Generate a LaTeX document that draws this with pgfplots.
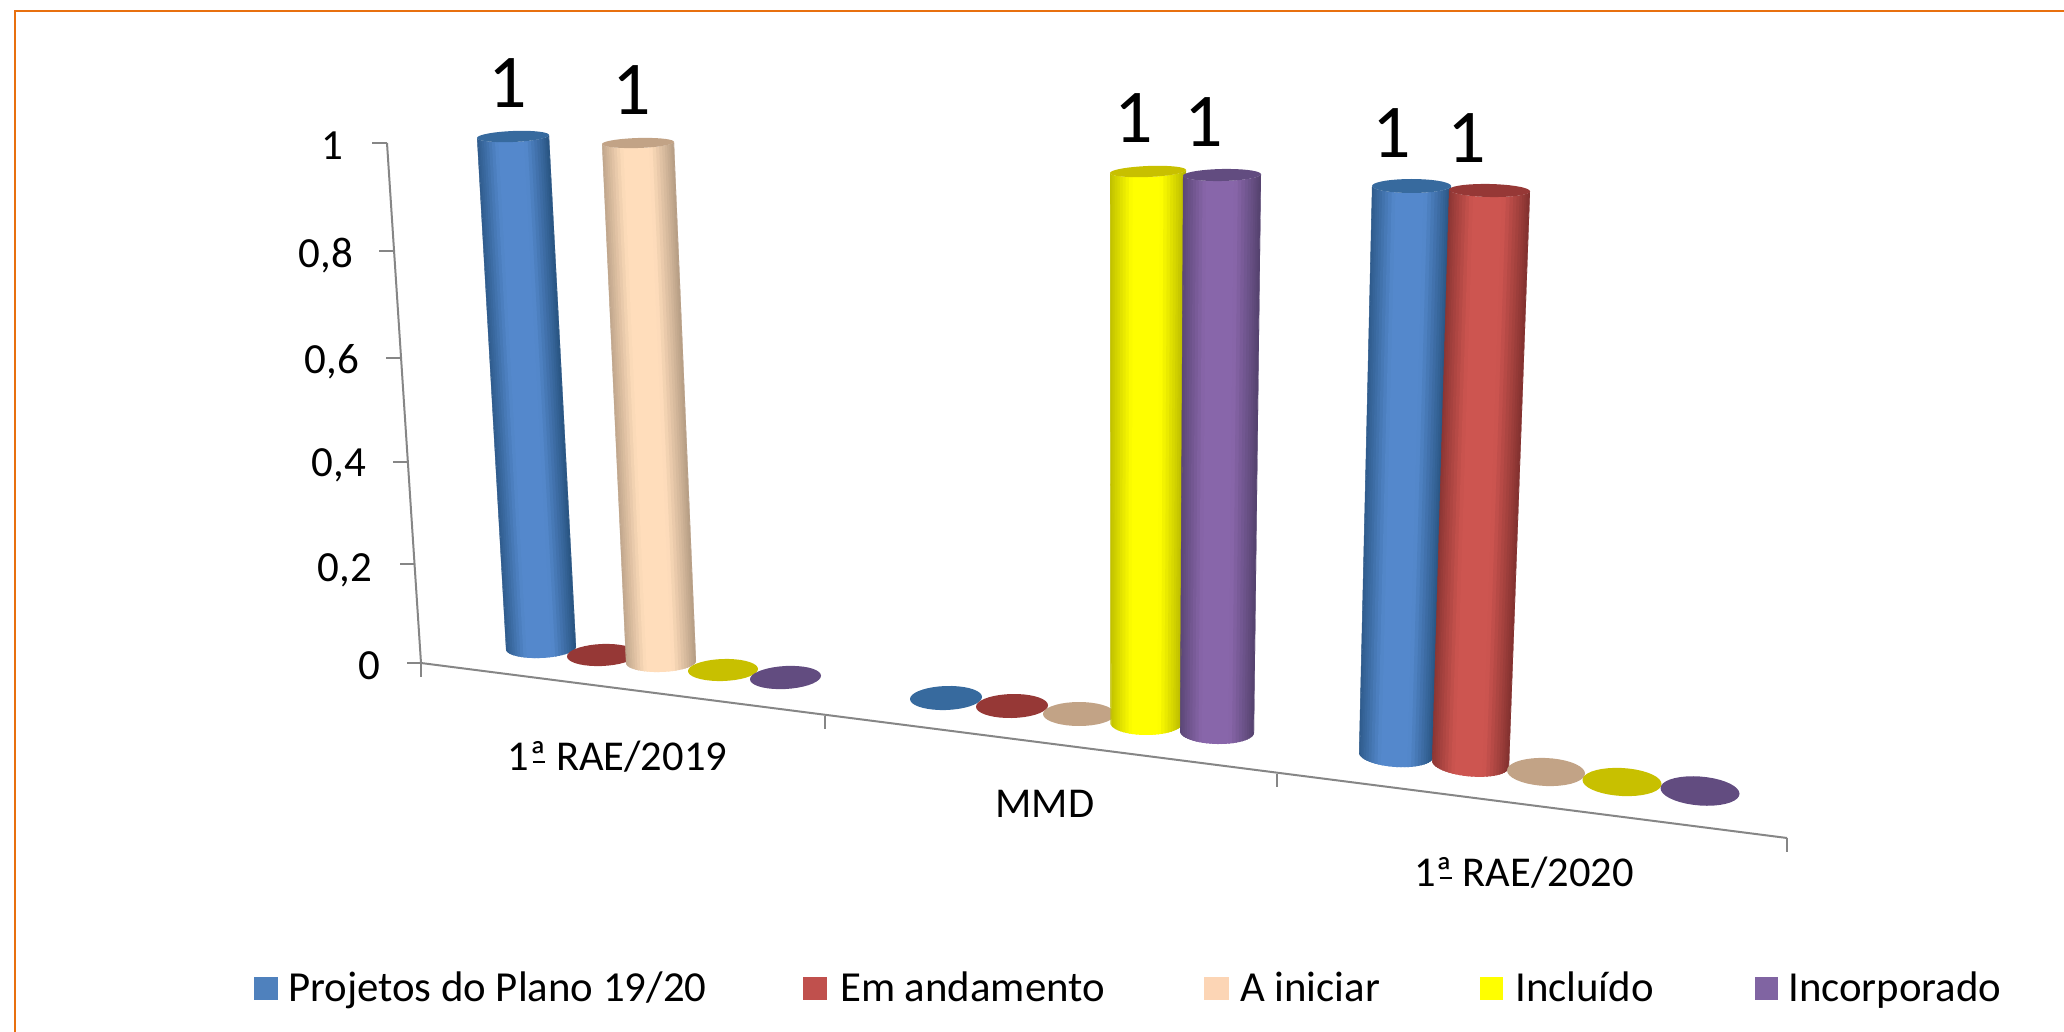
\documentclass[border=0pt]{standalone}
\usepackage{pgfplots}
\pgfplotsset{compat=1.18}
\usepackage{fontspec}
\setmainfont{Carlito}
\definecolor{axgray}{HTML}{868686}
\definecolor{frameor}{HTML}{E8700F}
\definecolor{bluec}{HTML}{5488CC}\definecolor{bluee}{HTML}{2A5684}\definecolor{bluet}{HTML}{376A9E}
\definecolor{redc}{HTML}{CD5550}\definecolor{rede}{HTML}{843230}\definecolor{redt}{HTML}{963836}
\definecolor{begc}{HTML}{FFDDBB}\definecolor{bege}{HTML}{B89F86}\definecolor{begt}{HTML}{C2A386}
\definecolor{yelc}{HTML}{FFFF00}\definecolor{yele}{HTML}{B8B800}\definecolor{yelt}{HTML}{C8C000}
\definecolor{purc}{HTML}{8866AA}\definecolor{pure}{HTML}{564370}\definecolor{purt}{HTML}{624C80}
\definecolor{legb}{HTML}{4F81BD}\definecolor{legr}{HTML}{C0504D}\definecolor{legn}{HTML}{FCD5B5}\definecolor{legp}{HTML}{8064A2}
% segment
\newcommand\seg[5][axgray]{\addplot[color=#1,line width=2pt] coordinates {(#2,#3)(#4,#5)};}
% flat disc: colour, cx, cy, rx, ry, shear
\newcommand\disc[6]{%
  \def\pts{}%
  \pgfplotsforeachungrouped \a in {0,10,...,350}{%
    \pgfmathsetmacro\px{#2+#4*cos(\a)}%
    \pgfmathsetmacro\py{#3+#5*sin(\a)+#6*#4*cos(\a)}%
    \edef\pts{\pts(\px,\py)}%
  }%
  \edef\temp{\noexpand\addplot[fill=#1,draw=none] coordinates {\pts};}\temp
}
% cylinder: series colour stem {c,e,t}; value; base cx,cy,rx,ry,shear; top (at value 1) cx,cy,rx,ry,shear
\newcommand\cyl[3]{\cylB{#1}{#2}#3\relax}
\def\cylB#1#2#3,#4,#5,#6,#7;#8,#9\relax{%
  \def\bx{#3}\def\by{#4}\def\brx{#5}\def\bry{#6}\def\bsh{#7}%
  \cylC{#1}{#2}#8,#9\relax}
\def\cylC#1#2#3,#4,#5,#6,#7\relax{%
  \pgfmathsetmacro\tx{\bx+#2*(#3-\bx)}%
  \pgfmathsetmacro\ty{\by+#2*(#4-\by)}%
  \pgfmathsetmacro\trx{\brx+#2*(#5-\brx)}%
  \pgfmathsetmacro\try{\bry+#2*(#6-\bry)}%
  \pgfmathsetmacro\tsh{\bsh+#2*(#7-\bsh)}%
  \pgfmathparse{#2>0?1:0}\ifnum\pgfmathresult>0
  \pgfplotsforeachungrouped \a in {0,6,...,174}{%
    \pgfmathsetmacro\an{min(180,\a+9)}%
    \pgfmathsetmacro\sa{-cos(\a)}\pgfmathsetmacro\sb{-cos(\an)}%
    \pgfmathsetmacro\sm{abs(-cos(\a+3)+0.04)}%
    \pgfmathsetmacro\p{100*min(1,max(0,(1-\sm)/0.62))^0.9}%
    \pgfmathsetmacro\xa{\bx+\brx*\sa}\pgfmathsetmacro\ya{\by+\bry*sin(\a)+\bsh*\brx*\sa}%
    \pgfmathsetmacro\xb{\bx+\brx*\sb}\pgfmathsetmacro\yb{\by+\bry*sin(\an)+\bsh*\brx*\sb}%
    \pgfmathsetmacro\xc{\tx+\trx*\sb}\pgfmathsetmacro\yc{\ty+\try*sin(\an)+\tsh*\trx*\sb}%
    \pgfmathsetmacro\xd{\tx+\trx*\sa}\pgfmathsetmacro\yd{\ty+\try*sin(\a)+\tsh*\trx*\sa}%
    \edef\temp{\noexpand\addplot[fill=#1c!\p!#1e,draw=none] coordinates {(\xa,\ya)(\xb,\yb)(\xc,\yc)(\xd,\yd)};}\temp
  }%
  \fi
  \disc{#1t}{\tx}{\ty}{\trx}{\try}{\tsh}%
}
\newcommand\lbl[4][42.5]{\node[anchor=base,inner sep=0pt] at (axis cs:#2,#3) {\fontsize{#1}{#1}\selectfont #4};}
\newcommand\tl[3]{\node[anchor=base east,inner sep=0pt] at (axis cs:#1,#2) {\fontsize{43}{43}\selectfont #3};}
\newcommand\leg[6]{\addplot[fill=#1,draw=none] coordinates {(#2,977)(#3,977)(#3,1000)(#2,1000)};
  \node[anchor=base west,inner sep=0pt] at (axis cs:#4,1001) {\fontsize{#6}{#6}\selectfont #5};}
\newcommand\ordu{\llap{\rule[0.17em]{0.28em}{0.05em}\kern0.03em}}
\begin{document}
\begin{tikzpicture}
\useasboundingbox (0,0) rectangle (2064pt,1032pt);
\begin{axis}[at={(0,0)},anchor=south west,width=2064pt,height=1032pt,scale only axis,
  xmin=0,xmax=2064,ymin=0,ymax=1032,y dir=reverse,hide axis,clip=false]
% frame
\addplot[color=frameor,line width=2.4pt] coordinates {(15,1032)(15,11)(2064,11)};
% axes
\seg{387}{143}{421}{663}
\seg{421}{663}{1787}{838}
\seg{372}{143}{387}{143}
\seg{379}{251}{394}{251}
\seg{386}{358}{401}{358}
\seg{393}{462}{408}{462}
\seg{400}{564}{415}{564}
\seg{407}{663}{421}{663}
\seg{421}{663}{421}{677}
\seg{825}{716}{825}{729}
\seg{1277}{774}{1277}{787}
\seg{1787}{838}{1787}{852}
% group 1
\cyl{blue}{1}{541,648,35,10,-0.04;513,136.5,36,5.5,-0.04}
\cyl{red}{0}{602,655,35,11,-0.04;602,140,36,5.5,-0.04}
\cyl{beg}{1}{661,662,35,10,-0.03;638,143,36,5,-0.03}
\cyl{yel}{0}{723,670,35,11,-0.03;700,150,36,5,-0.03}
\cyl{pur}{0}{785.5,677.5,35.5,11.5,-0.05;760,155,36,5,-0.03}
% group 2
\cyl{blue}{0}{946,698,36,12,-0.03;946,160,38,5.5,-0.03}
\cyl{red}{0}{1012,706,36,12,-0.02;1012,165,38,5.5,-0.03}
\cyl{beg}{0}{1079,714,36,12,0;1079,168,38,5.5,-0.03}
\cyl{yel}{1}{1146.5,723,36,12,0;1148,171.5,38,5.5,-0.04}
\cyl{pur}{1}{1217,732,37,12,0.02;1222,175,39,6,-0.02}
% group 3
\cyl{blue}{1}{1396,755,37,12,0.06;1411.5,186,39.5,7,0}
\cyl{red}{1}{1470.5,764,38.5,12.5,0.08;1489.5,190.5,40.5,6.5,0.02}
\cyl{beg}{0}{1546,772,39,14,0.04;1546,190,40,7,0.02}
\cyl{yel}{0}{1622,782,39.5,14,0.05;1622,190,40,7,0.02}
\cyl{pur}{0}{1700,791,39.5,14.5,0.07;1700,190,40,7,0.02}
% value labels
\lbl[76]{508}{108}{1}
\lbl[76]{632}{115}{1}
\lbl[76]{1134}{143}{1}
\lbl[76]{1204}{147}{1}
\lbl[76]{1392}{158}{1}
\lbl[76]{1467}{163}{1}
% y tick labels
\tl{343}{160}{1}
\tl{353}{268}{0,8}
\tl{359}{373}{0,6}
\tl{366}{476}{0,4}
\tl{372}{581}{0,2}
\tl{380}{679}{0}
% categories
\lbl{617.5}{770}{1ª\ordu{} RAE/2019}
\lbl{1045}{817}{MMD}
\lbl{1524}{886}{1ª\ordu{} RAE/2020}
% legend
\leg{legb}{254}{278}{288}{Projetos do Plano 19/20}{42.8}
\leg{legr}{803}{827}{840}{Em andamento}{42.8}
\leg{legn}{1204}{1229}{1240}{A iniciar}{42.8}
\leg{yelc}{1480}{1503}{1515}{Incluído}{42.8}
\leg{legp}{1755}{1778}{1788}{Incorporado}{42.8}
\end{axis}
\end{tikzpicture}
\end{document}
